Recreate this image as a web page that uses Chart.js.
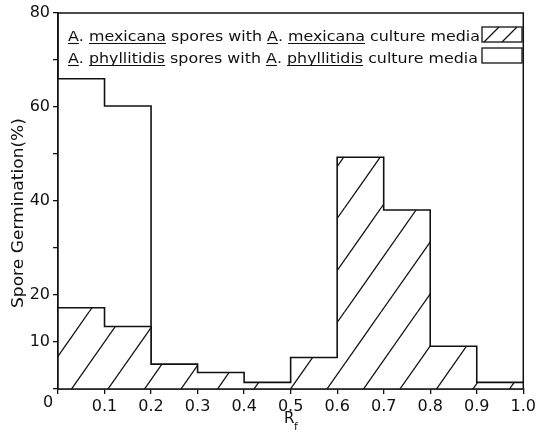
<!DOCTYPE html>
<html>
<head>
<meta charset="utf-8">
<script src="https://cdn.jsdelivr.net/npm/chart.js@4/dist/chart.umd.min.js"></script>
<style>
  html, body { margin: 0; padding: 0; background: #fff; }
  #box { width: 539px; height: 438px; }
</style>
</head>
<body>
<div id="box"><canvas id="germChart" width="539" height="438"></canvas></div>
<script>
/* Rf bin edges and germination values (%) per bin */
const binEdges = [0, 0.1, 0.2, 0.3, 0.4, 0.5, 0.6, 0.7, 0.8, 0.9, 1.0];
const mexicanaValues = [17.3, 13.3, 5.3, 3.5, 1.4, 6.7, 49.3, 38.1, 9.1, 1.4];
const phyllitidisValues = [66, 60.2, 0, 0, 0, 0, 0, 0, 0, 0];
const yTickLabels = [10, 20, 40, 60, 80];

const INK = "#111";
const FONT = "'DejaVu Sans', sans-serif";

/* step points: each value held across its bin, last value repeated at 1.0 */
function stepPoints(vals) {
    return binEdges.map((x, i) => ({ x: x, y: vals[Math.min(i, vals.length - 1)] }));
}

/* diagonal hatch, anchored to the canvas origin */
function makeHatch() {
    const W = 73, H = 104;
    const c = document.createElement("canvas");
    c.width = W; c.height = H;
    const g = c.getContext("2d");
    g.fillStyle = "#fff";
    g.fillRect(0, 0, W, H);
    g.strokeStyle = INK;
    g.lineWidth = 1.3;
    const off = 16;
    for (let k = -4; k <= 5; k++) {
        const c0 = off + k * 36.5;
        g.beginPath();
        g.moveTo(c0, 0);
        g.lineTo(c0 - W, H);
        g.stroke();
    }
    return g.createPattern(c, "repeat");
}

/* draw text made of segments, some underlined, squeezed to a target width */
function drawSegments(ctx, segs, x, y, size, targetW) {
    ctx.save();
    ctx.font = size + "px " + FONT;
    ctx.textBaseline = "alphabetic";
    ctx.textAlign = "left";
    let total = 0;
    segs.forEach(s => total += ctx.measureText(s[0]).width);
    const k = targetW / total;
    ctx.translate(x, y);
    ctx.scale(k, 1);
    let cx = 0;
    ctx.fillStyle = INK;
    ctx.strokeStyle = INK;
    ctx.lineWidth = 1.1;
    segs.forEach(s => {
        const w = ctx.measureText(s[0]).width;
        ctx.fillText(s[0], cx, 0);
        if (s[1]) {
            ctx.beginPath();
            ctx.moveTo(cx, 2.5);
            ctx.lineTo(cx + w, 2.5);
            ctx.stroke();
        }
        cx += w;
    });
    ctx.restore();
}

const decorPlugin = {
    id: "decor",
    afterDatasetsDraw(chart) {
        const ctx = chart.ctx;
        const a = chart.chartArea;
        ctx.save();
        ctx.strokeStyle = INK;
        ctx.lineWidth = 1.5;
        ctx.strokeRect(a.left, a.top, a.right - a.left, a.bottom - a.top);
        ctx.restore();
    },
    afterDraw(chart) {
        const ctx = chart.ctx;

        // legend
        drawSegments(ctx, [["A", 1], [". ", 0], ["mexicana", 1], [" spores with ", 0],
            ["A", 1], [". ", 0], ["mexicana", 1], [" culture media", 0]], 68, 41, 14, 412);
        drawSegments(ctx, [["A", 1], [". ", 0], ["phyllitidis", 1], [" spores with ", 0],
            ["A", 1], [". ", 0], ["phyllitidis", 1], [" culture media", 0]], 68, 63, 14, 410);

        ctx.save();
        ctx.strokeStyle = INK;
        ctx.lineWidth = 1.3;
        ctx.strokeRect(482, 27, 40, 15);
        ctx.strokeRect(482, 48, 40, 15);
        ctx.beginPath();
        ctx.moveTo(484, 42); ctx.lineTo(499, 27);
        ctx.moveTo(502, 42); ctx.lineTo(517, 27);
        ctx.stroke();

        // origin label
        ctx.fillStyle = INK;
        ctx.font = "16px " + FONT;
        ctx.textAlign = "center";
        ctx.textBaseline = "middle";
        ctx.fillText("0", 48, 403);

        // x title R_f
        ctx.textAlign = "left";
        ctx.textBaseline = "alphabetic";
        ctx.font = "15px " + FONT;
        ctx.fillText("R", 284, 423);
        ctx.font = "11px " + FONT;
        ctx.fillText("f", 294, 430);

        // y title
        ctx.translate(19, 213);
        ctx.rotate(-Math.PI / 2);
        ctx.font = "15px " + FONT;
        const t = "Spore Germination(%)";
        const w = ctx.measureText(t).width;
        ctx.scale(190 / w, 1);
        ctx.textAlign = "center";
        ctx.textBaseline = "middle";
        ctx.fillText(t, 0, 0);
        ctx.restore();
    }
};

new Chart(document.getElementById("germChart"), {
    type: "line",
    data: {
        datasets: [
            {
                label: "A. mexicana spores with A. mexicana culture media",
                data: stepPoints(mexicanaValues),
                stepped: true,
                fill: "origin",
                backgroundColor: makeHatch(),
                borderColor: INK,
                borderWidth: 1.6,
                pointRadius: 0
            },
            {
                label: "A. phyllitidis spores with A. phyllitidis culture media",
                data: stepPoints(phyllitidisValues),
                stepped: true,
                fill: "origin",
                backgroundColor: "#fff",
                borderColor: INK,
                borderWidth: 1.6,
                pointRadius: 0
            }
        ]
    },
    options: {
        responsive: false,
        animation: false,
        layout: { padding: { top: 13, right: 13, left: 0, bottom: 0 } },
        plugins: { legend: { display: false }, tooltip: { enabled: false } },
        scales: {
            x: {
                type: "linear",
                min: 0,
                max: 1,
                afterFit: s => { s.height = 49; },
                ticks: {
                    stepSize: 0.1,
                    autoSkip: false,
                    maxRotation: 0,
                    padding: 3,
                    color: INK,
                    font: { family: FONT, size: 16 },
                    callback: v => (Math.abs(v) < 1e-9 ? "" : v.toFixed(1))
                },
                grid: { drawOnChartArea: false, tickLength: 5, color: INK, lineWidth: 1.3 },
                border: { color: INK, width: 1.5 }
            },
            y: {
                min: 0,
                max: 80,
                afterFit: s => { s.width = 58; },
                ticks: {
                    stepSize: 10,
                    padding: 3,
                    color: INK,
                    font: { family: FONT, size: 16 },
                    callback: v => (yTickLabels.includes(v) ? String(v) : "")
                },
                grid: { drawOnChartArea: false, tickLength: 5, color: INK, lineWidth: 1.3 },
                border: { color: INK, width: 1.5 }
            }
        }
    },
    plugins: [decorPlugin]
});
</script>
</body>
</html>
